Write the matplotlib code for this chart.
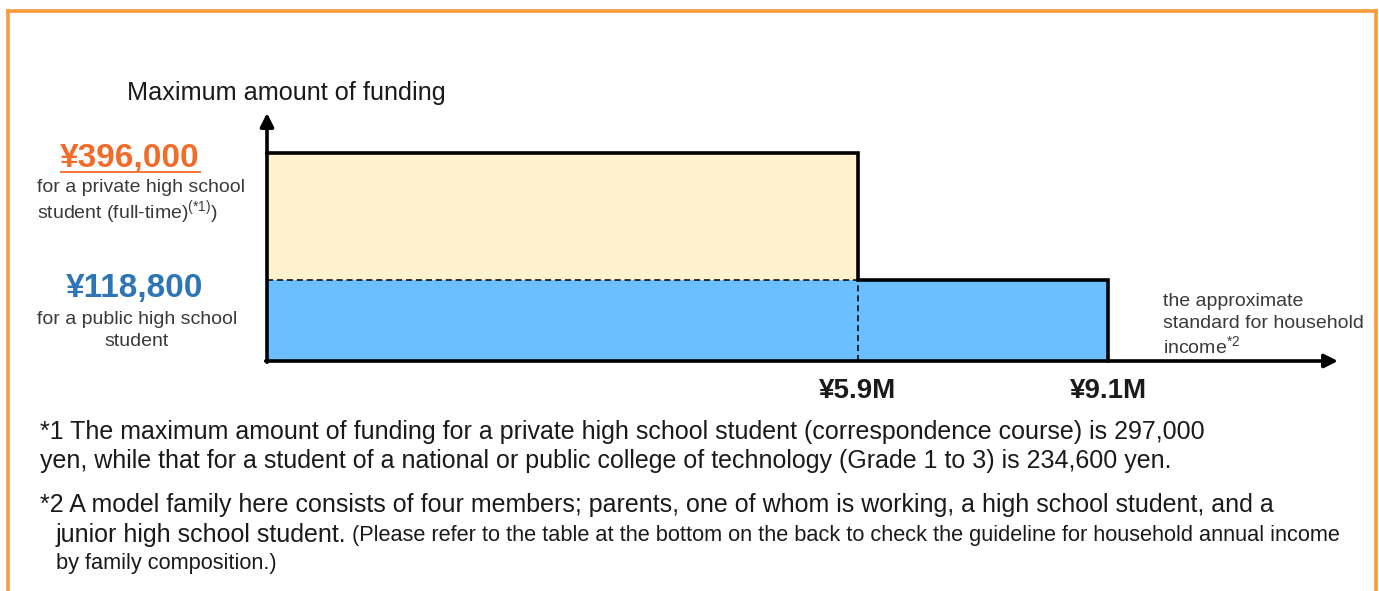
import numpy as np
import matplotlib
matplotlib.use("Agg")
import matplotlib.pyplot as plt
from matplotlib.lines import Line2D

plt.rcParams["font.family"] = ["Liberation Sans", "DejaVu Sans"]
plt.rcParams["mathtext.fontset"] = "custom"
plt.rcParams["mathtext.rm"] = "Liberation Sans"
plt.rcParams["mathtext.it"] = "Liberation Sans:italic"
plt.rcParams["mathtext.bf"] = "Liberation Sans:bold"

# income thresholds (million yen) and maximum funding (yen)
income_steps = [5.9, 9.1]
income_labels = ["¥5.9M", "¥9.1M"]
funding_private = 396000
funding_public = 118800
funding_labels = ["¥396,000", "¥118,800"]

private_caption = ["for a private high school", "student (full-time)$^{(*1)}$)"]
public_caption = ["for a public high school", "student"]
income_caption = ["the approximate", "standard for household", "income$^{*2}$"]

footnote_1 = ["*1 The maximum amount of funding for a private high school student (correspondence course) is 297,000",
              "yen, while that for a student of a national or public college of technology (Grade 1 to 3) is 234,600 yen."]
footnote_2 = ["*2 A model family here consists of four members; parents, one of whom is working, a high school student, and a",
              "junior high school student.",
              "(Please refer to the table at the bottom on the back to check the guideline for household annual income",
              "by family composition.)"]

YELLOW = "#FFF2CC"
BLUE = "#6BBEFF"
ORANGE = "#F26B28"
NAVY = "#2E75B6"
BORDER = "#F99B3C"
INK = "#1a1a1a"
GREY = "#3a3a3a"

W, H = 1379, 591
fig = plt.figure(figsize=(W / 100, H / 100), dpi=100)


def fx(px):
    return px / W


def fy(py):
    return 1 - py / H


# the drawing is schematic, not to scale -> piecewise scale through the steps
x_knots = [0] + income_steps + [12.0]
x_span = [0, 591, 841, 1071]
y_knots = [0, funding_public, funding_private, 480000]
y_span = [0, 81, 208, 248]

ax = fig.add_axes([fx(267), fy(361), 1071 / W, 248 / H])
ax.set_xscale("function", functions=(lambda v: np.interp(v, x_knots, x_span),
                                     lambda p: np.interp(p, x_span, x_knots)))
ax.set_yscale("function", functions=(lambda v: np.interp(v, y_knots, y_span),
                                     lambda p: np.interp(p, y_span, y_knots)))
ax.set_xlim(0, 12.0)
ax.set_ylim(0, 480000)

ax.bar(0, funding_private, width=income_steps[0], align="edge", color=YELLOW, lw=0)
ax.bar(0, funding_public, width=income_steps[1], align="edge", color=BLUE, lw=0)
ax.plot([0, income_steps[0], income_steps[0], income_steps[1], income_steps[1]],
        [funding_private, funding_private, funding_public, funding_public, 0],
        color="black", lw=2.6, solid_joinstyle="miter", clip_on=False)
ax.plot([0, income_steps[0]], [funding_public, funding_public], color="black",
        lw=1.1, ls=(0, (4, 2.5)))
ax.plot([income_steps[0], income_steps[0]], [0, funding_public], color="black",
        lw=1.1, ls=(0, (4, 2.5)))

for s in ax.spines.values():
    s.set_visible(False)
ax.set_yticks([])
ax.set_xticks(income_steps)
ax.set_xticklabels(income_labels, fontsize=20, fontweight="bold", color=INK)
ax.tick_params(axis="x", length=0, pad=12)
ax.set_facecolor("none")

arrow = dict(arrowstyle="-|>", lw=2.6, color="black", mutation_scale=20,
             shrinkA=0, shrinkB=0)
ax.annotate("", xy=(0, 1), xytext=(0, -0.005), xycoords="axes fraction",
            arrowprops=arrow, annotation_clip=False)
ax.annotate("", xy=(1, 0), xytext=(-0.0012, 0), xycoords="axes fraction",
            arrowprops=arrow, annotation_clip=False)

# axis captions
fig.text(fx(127), fy(93), "Maximum amount of funding", fontsize=18.2,
         color=INK, va="center")
for line, y in zip(income_caption, [302, 324, 346]):
    fig.text(fx(1163), fy(y), line, fontsize=14, color=GREY, va="center")

fig.text(fx(130), fy(158), funding_labels[0], fontsize=24, fontweight="bold",
         color=ORANGE, ha="center", va="center")
fig.add_artist(Line2D([fx(61), fx(200)], [fy(172), fy(172)], color=ORANGE, lw=1.3))
for line, x, y in zip(private_caption, [141, 127], [187, 212]):
    fig.text(fx(x), fy(y), line, fontsize=14, color=GREY, ha="center", va="center")

fig.text(fx(135), fy(288), funding_labels[1], fontsize=24, fontweight="bold",
         color=NAVY, ha="center", va="center")
for line, y in zip(public_caption, [320, 341]):
    fig.text(fx(137), fy(y), line, fontsize=14, color=GREY, ha="center", va="center")

# footnotes
fig.text(fx(40), fy(432), footnote_1[0], fontsize=18, color=INK, va="center")
fig.text(fx(40), fy(461), footnote_1[1], fontsize=18, color=INK, va="center")
fig.text(fx(40), fy(505), footnote_2[0], fontsize=18, color=INK, va="center")
fig.text(fx(56), fy(535), footnote_2[1], fontsize=18, color=INK, va="center")
fig.text(fx(352), fy(535), footnote_2[2], fontsize=15.7, color=INK, va="center")
fig.text(fx(56), fy(563), footnote_2[3], fontsize=15.7, color=INK, va="center")

# orange frame (open at the bottom)
for xs, ys in [([7.5, 7.5], [H, 10.5]), ([7.5, 1375.5], [10.5, 10.5]),
               ([1375.5, 1375.5], [10.5, H])]:
    fig.add_artist(Line2D([fx(v) for v in xs], [fy(v) for v in ys],
                          color=BORDER, lw=2.6, solid_capstyle="projecting"))

fig.savefig("out.png", dpi=100)
